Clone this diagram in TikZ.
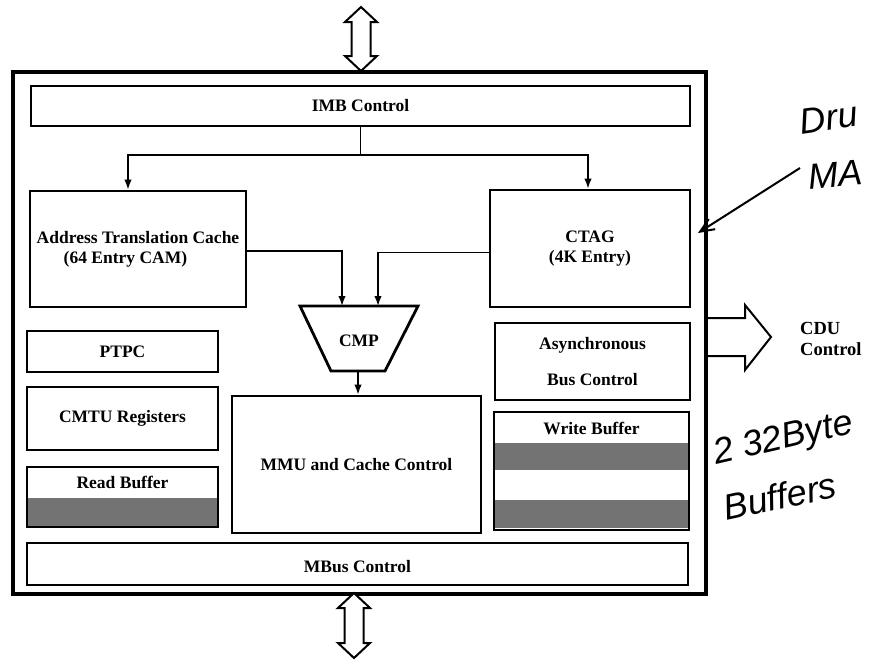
\documentclass[tikz,border=0pt]{standalone}
\usepackage{fontspec}
\setmainfont{Liberation Serif}
\newfontfamily\handfont{Liberation Sans}
\usetikzlibrary{arrows.meta}
\newcommand\blklabel{\bfseries\fontsize{17.5}{20}\selectfont}
\begin{document}
\begin{tikzpicture}[x=1pt,y=-1pt,
  blk/.style={draw, line width=2.8pt, inner sep=0pt, font=\blklabel, align=center},
  txt/.style={font=\blklabel, inner sep=0pt, align=center},
  conn/.style={line width=1.6pt, -{Latex[length=10pt,width=7.5pt]}},
  wire/.style={line width=1.6pt},
  dbl/.style={draw, line width=2pt, fill=white, line join=miter},
  shade/.style={fill=black!55},
  hand/.style={font=\handfont\itshape\fontsize{36}{38}\selectfont, inner sep=0pt, anchor=west},
  annarrow/.style={line width=2pt, -{Straight Barb[length=14pt,width=12pt]}}]
\useasboundingbox (0,0) rectangle (869,659);

% outer chip frame
\node[draw, line width=4pt, minimum width=693, minimum height=522, inner sep=0pt] (chip) at (359.5,333) {};

% top and bottom bus arrows
\draw[dbl] (361,7) -- (377,22) -- (370.5,22) -- (370.5,56) -- (377,56) -- (361,71)
  -- (345,56) -- (351.5,56) -- (351.5,22) -- (345,22) -- cycle;
\draw[dbl] (354,593) -- (370,608) -- (363.5,608) -- (363.5,643) -- (370,643) -- (354,658)
  -- (338,643) -- (344.5,643) -- (344.5,608) -- (338,608) -- cycle;

% CDU arrow
\draw[line width=2pt, line join=miter] (707,318) -- (745,318) -- (745,305) -- (771,337)
  -- (745,370) -- (745,356) -- (707,356);
\node[txt, anchor=west, align=left, font=\bfseries\fontsize{18.5}{21}\selectfont] (cdu) at (800,339) {CDU\\Control};

% shaded fills
\fill[shade] (27,498) rectangle (218,527);
\fill[shade] (494,443) rectangle (689,470);
\fill[shade] (494,500) rectangle (689,528);

% blocks
\node[blk, minimum width=659, minimum height=40] (imb) at (360.5,106) {IMB Control};
\node[blk, minimum width=216, minimum height=116, align=left] (atc) at (138,249)
  {Address Translation Cache\\\hspace*{27pt}(64 Entry CAM)};
\node[blk, minimum width=200, minimum height=117] (ctag) at (590,248.5) {CTAG\\(4K Entry)};
\node[blk, minimum width=191, minimum height=41] (ptpc) at (122.5,351.5) {PTPC};
\node[blk, minimum width=191, minimum height=63] (cmtu) at (122.5,418.5) {CMTU Registers};
\node[blk, minimum width=191, minimum height=60] (rb) at (122.5,497) {};
\node[txt] (rbt) at (122.5,482.5) {Read Buffer};
\node[blk, minimum width=249, minimum height=137] (mmu) at (356.5,464.5) {MMU and Cache Control};
\node[blk, minimum width=195, minimum height=77] (async) at (592.5,361.5) {Asynchronous\\[16pt]Bus Control};
\node[blk, minimum width=195, minimum height=118] (wb) at (591.5,471) {};
\node[txt] (wbt) at (591.5,428) {Write Buffer};
\node[blk, minimum width=661, minimum height=42] (mbus) at (357.5,564) {};
\node[txt] (mbust) at (357.5,567) {MBus Control};

% CMP trapezoid
\draw[line width=2.8pt, line join=miter] (300,306) -- (418,306) -- (385,371) -- (331,371) -- cycle;
\node[txt] (cmp) at (359,341) {CMP};
\coordinate (cmpin1) at (342,306);
\coordinate (cmpin2) at (378,306);
\coordinate (cmpout) at (358,371);

% connectors
\coordinate (br) at (360.5,155);
\draw[wire] (imb.south) -- (br);
\draw[conn] (br) -| ([xshift=-10pt]atc.north);
\draw[conn] (br) -| ([xshift=-2pt]ctag.north);
\draw[conn] ([yshift=-2pt]atc.east) -| (cmpin1);
\draw[conn] ([yshift=-4pt]ctag.west) -| (cmpin2);
\draw[conn] (cmpout) -- (cmpout |- mmu.north);

% handwritten notes
\node[hand, rotate=8] (dru) at (800,122) {Dru};
\node[hand, rotate=5] (ma) at (808,177) {MA};
\coordinate (annstart) at (800,168);
\coordinate (anntip) at (698,233);
\draw[annarrow] (annstart) -- (anntip);
\node[hand, rotate=13] (bytes) at (714,456) {2 32Byte};
\node[hand, rotate=12] (bufs) at (724,508) {Buffers};
\end{tikzpicture}
\end{document}
